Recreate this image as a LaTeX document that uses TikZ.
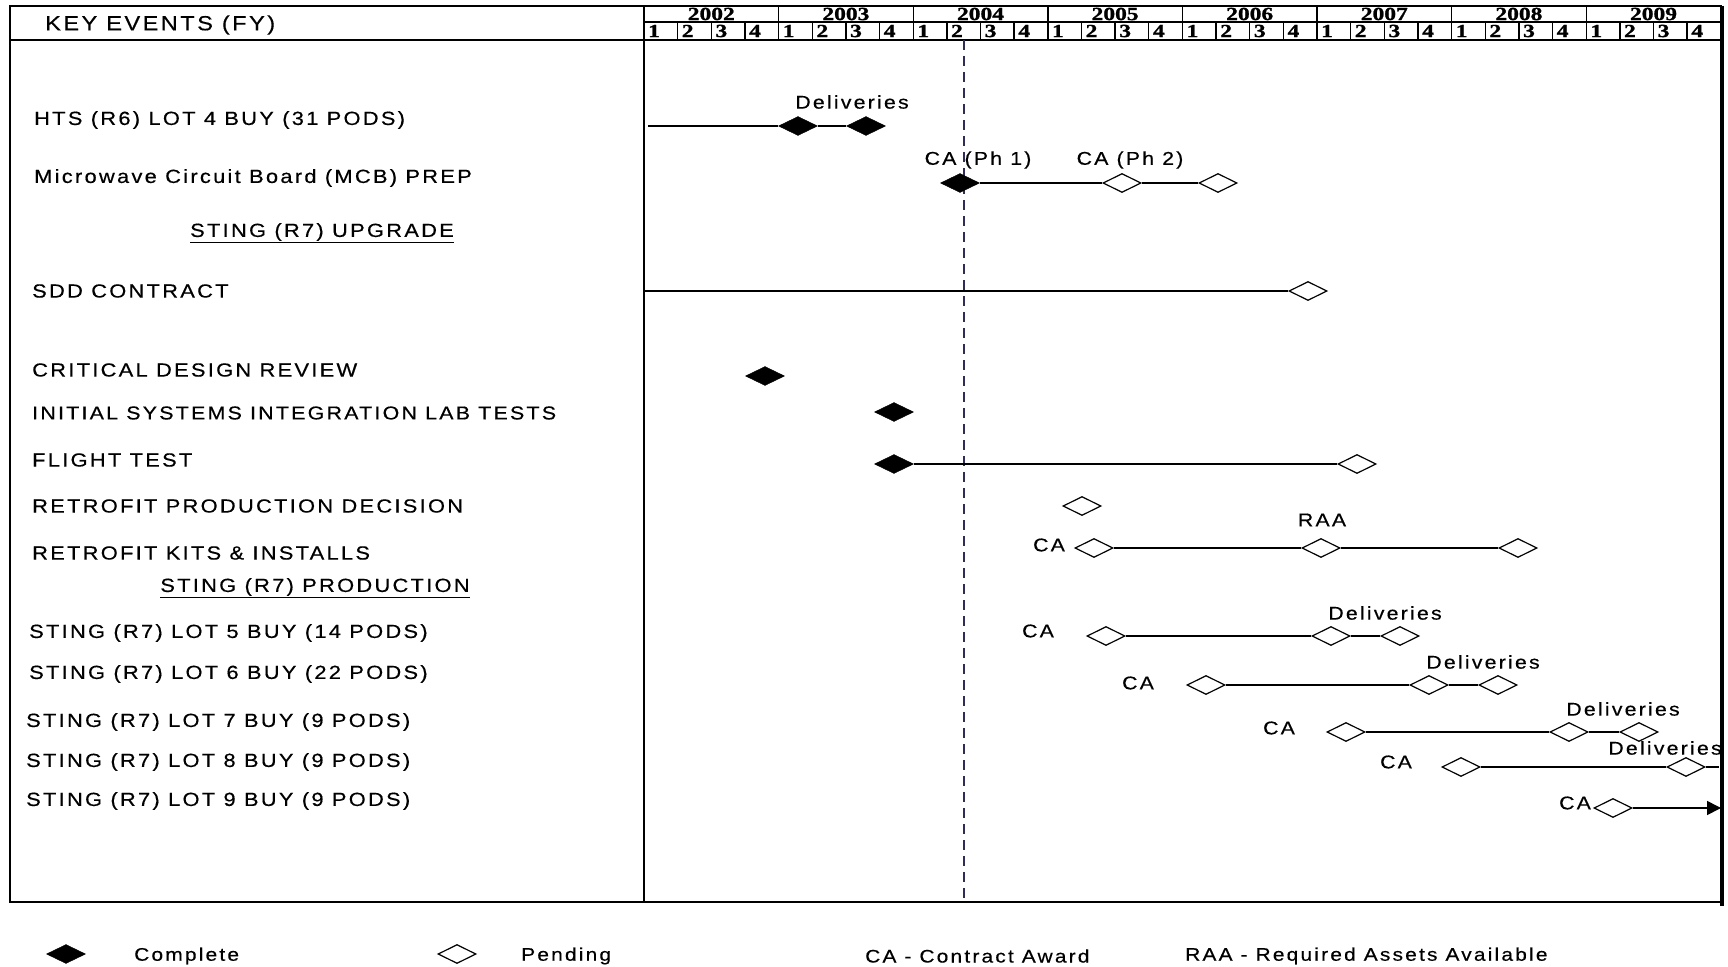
\documentclass[tikz,border=0pt]{standalone}
\usepackage{fontspec}
\setmainfont{Liberation Sans}[FakeStretch=1.15,LetterSpace=12,FakeBold=0.4]
\newfontfamily\hdrfont{Liberation Serif}[FakeStretch=1.27,FakeBold=1.2]
\usetikzlibrary{shapes.geometric,arrows.meta}
\definecolor{todaycol}{RGB}{45,45,85}
\begin{document}
\begin{tikzpicture}[x=1pt,y=-1pt,
  frame/.style={line width=2pt},
  conn/.style={line width=1.6pt},
  lbl/.style={font=\fontsize{19}{21}\selectfont,inner sep=0pt,yshift=-2pt},
  clbl/.style={lbl,font=\fontsize{18.5}{20}\selectfont},
  rowlbl/.style={lbl,anchor=west},
  leglbl/.style={lbl,anchor=west,font=\fontsize{18.2}{20}\selectfont},
  done/.style={diamond,fill=black,draw=black,minimum width=39pt,minimum height=19pt,inner sep=0pt},
  pend/.style={diamond,fill=white,draw=black,line width=1.2pt,minimum width=38pt,minimum height=19pt,inner sep=0pt},
  hdr/.style={font=\hdrfont\bfseries\fontsize{18.5}{19}\selectfont,inner sep=0pt},
  today/.style={dash pattern=on 10pt off 6pt,line width=1.5pt,draw=todaycol}
]
\useasboundingbox[fill=white] (0,0) rectangle (1728,966);
% frame
\draw[frame] (10,6) rectangle (1721,902);
\draw[frame] (644,6) -- (644,902);
\draw[frame] (10,40) -- (1721,40);
\draw[line width=1.2pt] (644,22) -- (1721,22);
\draw[line width=4pt] (1722,6) -- (1722,906);
\foreach \i in {1,...,7} \draw[line width=1.4pt] ({644+134.6*\i},6) -- ({644+134.6*\i},40);
\foreach \q in {1,...,31} \draw[line width=1.4pt] ({644+33.65*\q},22) -- ({644+33.65*\q},40);
\foreach \yr [count=\i from 0] in {2002,2003,2004,2005,2006,2007,2008,2009}
  \node[hdr] (y\i) at ({644+134.6*(\i+0.5)},14) {\yr};
\foreach \q in {0,...,31}{
  \pgfmathtruncatemacro{\qn}{mod(\q,4)+1}
  \node[hdr,anchor=west] (q\q) at ({644+33.65*\q+4},31) {\qn};
}
\node[lbl,anchor=west,font=\fontsize{20.5}{22}\selectfont] (keyev) at (45,23) {KEY EVENTS (FY)};
% today line
\draw[today] (964,40) -- (964,902);
% row labels
\node[rowlbl] (t1) at (34,118) {HTS (R6) LOT 4 BUY (31 PODS)};
\node[rowlbl] (t2) at (34,176) {Microwave Circuit Board (MCB) PREP};
\node[lbl] (t3) at (322,231) {\underline{STING (R7) UPGRADE}};
\node[rowlbl] (t4) at (32,289) {SDD CONTRACT};
\node[rowlbl] (t5) at (32,368) {CRITICAL DESIGN REVIEW};
\node[rowlbl,font=\fontsize{18.6}{20}\selectfont] (t6) at (32,411) {INITIAL SYSTEMS INTEGRATION LAB TESTS};
\node[rowlbl] (t7) at (32,458) {FLIGHT TEST};
\node[rowlbl] (t8) at (32,504) {RETROFIT PRODUCTION DECISION};
\node[rowlbl] (t9) at (32,551) {RETROFIT KITS \& INSTALLS};
\node[lbl] (t10) at (315,586) {\underline{STING (R7) PRODUCTION}};
\node[rowlbl] (t11) at (29,631) {STING (R7) LOT 5 BUY (14 PODS)};
\node[rowlbl] (t12) at (29,672) {STING (R7) LOT 6 BUY (22 PODS)};
\node[rowlbl] (t13) at (26,720) {STING (R7) LOT 7 BUY (9 PODS)};
\node[rowlbl] (t14) at (26,760) {STING (R7) LOT 8 BUY (9 PODS)};
\node[rowlbl] (t15) at (26,799) {STING (R7) LOT 9 BUY (9 PODS)};
% row 1
\coordinate (r1s) at (648,126);
\node[done] (r1a) at (798,126) {};
\node[done] (r1b) at (866,126) {};
\draw[conn] (r1s) -- (r1a);
\draw[conn] (r1a) -- (r1b);
\node[clbl] (r1d) at (852,100) {Deliveries};
% row 2
\node[done] (r2a) at (960,183) {};
\node[pend] (r2b) at (1122,183) {};
\node[pend] (r2c) at (1218,183) {};
\draw[conn] (r2a) -- (r2b);
\draw[conn] (r2b) -- (r2c);
\node[clbl] (r2l1) at (978,158) {CA (Ph 1)};
\node[clbl] (r2l2) at (1130,158) {CA (Ph 2)};
% SDD
\coordinate (sdds) at (645,291);
\node[pend] (sdda) at (1308,291) {};
\draw[conn] (sdds) -- (sdda);
% CDR, ISIL
\node[done] (cdr) at (765,376) {};
\node[done] (isil) at (894,412) {};
% flight test
\node[done] (fta) at (894,464) {};
\node[pend] (ftb) at (1357,464) {};
\draw[conn] (fta) -- (ftb);
% retrofit production decision
\node[pend] (rpd) at (1082,506) {};
% retrofit kits
\node[pend] (rka) at (1094,548) {};
\node[pend] (rkb) at (1321,548) {};
\node[pend] (rkc) at (1518,548) {};
\draw[conn] (rka) -- (rkb);
\draw[conn] (rkb) -- (rkc);
\node[clbl] (rkl1) at (1049,543) {CA};
\node[clbl] (rkl2) at (1322,518) {RAA};
% lot 5
\node[pend] (l5a) at (1106,636) {};
\node[pend] (l5b) at (1331,636) {};
\node[pend] (l5c) at (1400,636) {};
\draw[conn] (l5a) -- (l5b);
\draw[conn] (l5b) -- (l5c);
\node[clbl] (l5l1) at (1038,629) {CA};
\node[clbl] (l5l2) at (1385,611) {Deliveries};
% lot 6
\node[pend] (l6a) at (1206,685) {};
\node[pend] (l6b) at (1429,685) {};
\node[pend] (l6c) at (1498,685) {};
\draw[conn] (l6a) -- (l6b);
\draw[conn] (l6b) -- (l6c);
\node[clbl] (l6l1) at (1138,681) {CA};
\node[clbl] (l6l2) at (1483,660) {Deliveries};
% lot 7
\node[pend] (l7a) at (1346,732) {};
\node[pend] (l7b) at (1569,732) {};
\node[pend] (l7c) at (1639,732) {};
\draw[conn] (l7a) -- (l7b);
\draw[conn] (l7b) -- (l7c);
\node[clbl] (l7l1) at (1279,726) {CA};
\node[clbl] (l7l2) at (1623,707) {Deliveries};
% lot 8
\node[pend] (l8a) at (1461,767) {};
\node[pend] (l8b) at (1686,767) {};
\coordinate (l8e) at (1719,767);
\draw[conn] (l8a) -- (l8b);
\draw[conn] (l8b) -- (l8e);
\node[clbl] (l8l1) at (1396,760) {CA};
\node[clbl] (l8l2) at (1665,746) {Deliveries};
% lot 9
\node[pend] (l9a) at (1613,808) {};
\coordinate (l9e) at (1721,808);
\draw[conn,-{Triangle[length=14pt,width=14pt]}] (l9a) -- (l9e);
\node[clbl] (l9l1) at (1575,801) {CA};
% legend
\node[done] (lg1) at (66,954) {};
\node[leglbl] (lg1t) at (134,954) {Complete};
\node[pend] (lg2) at (457,954) {};
\node[leglbl] (lg2t) at (521,954) {Pending};
\node[leglbl] (lg3t) at (865,954) {CA - Contract Award};
\node[leglbl] (lg4t) at (1185,954) {RAA - Required Assets Available};
\end{tikzpicture}
\end{document}
